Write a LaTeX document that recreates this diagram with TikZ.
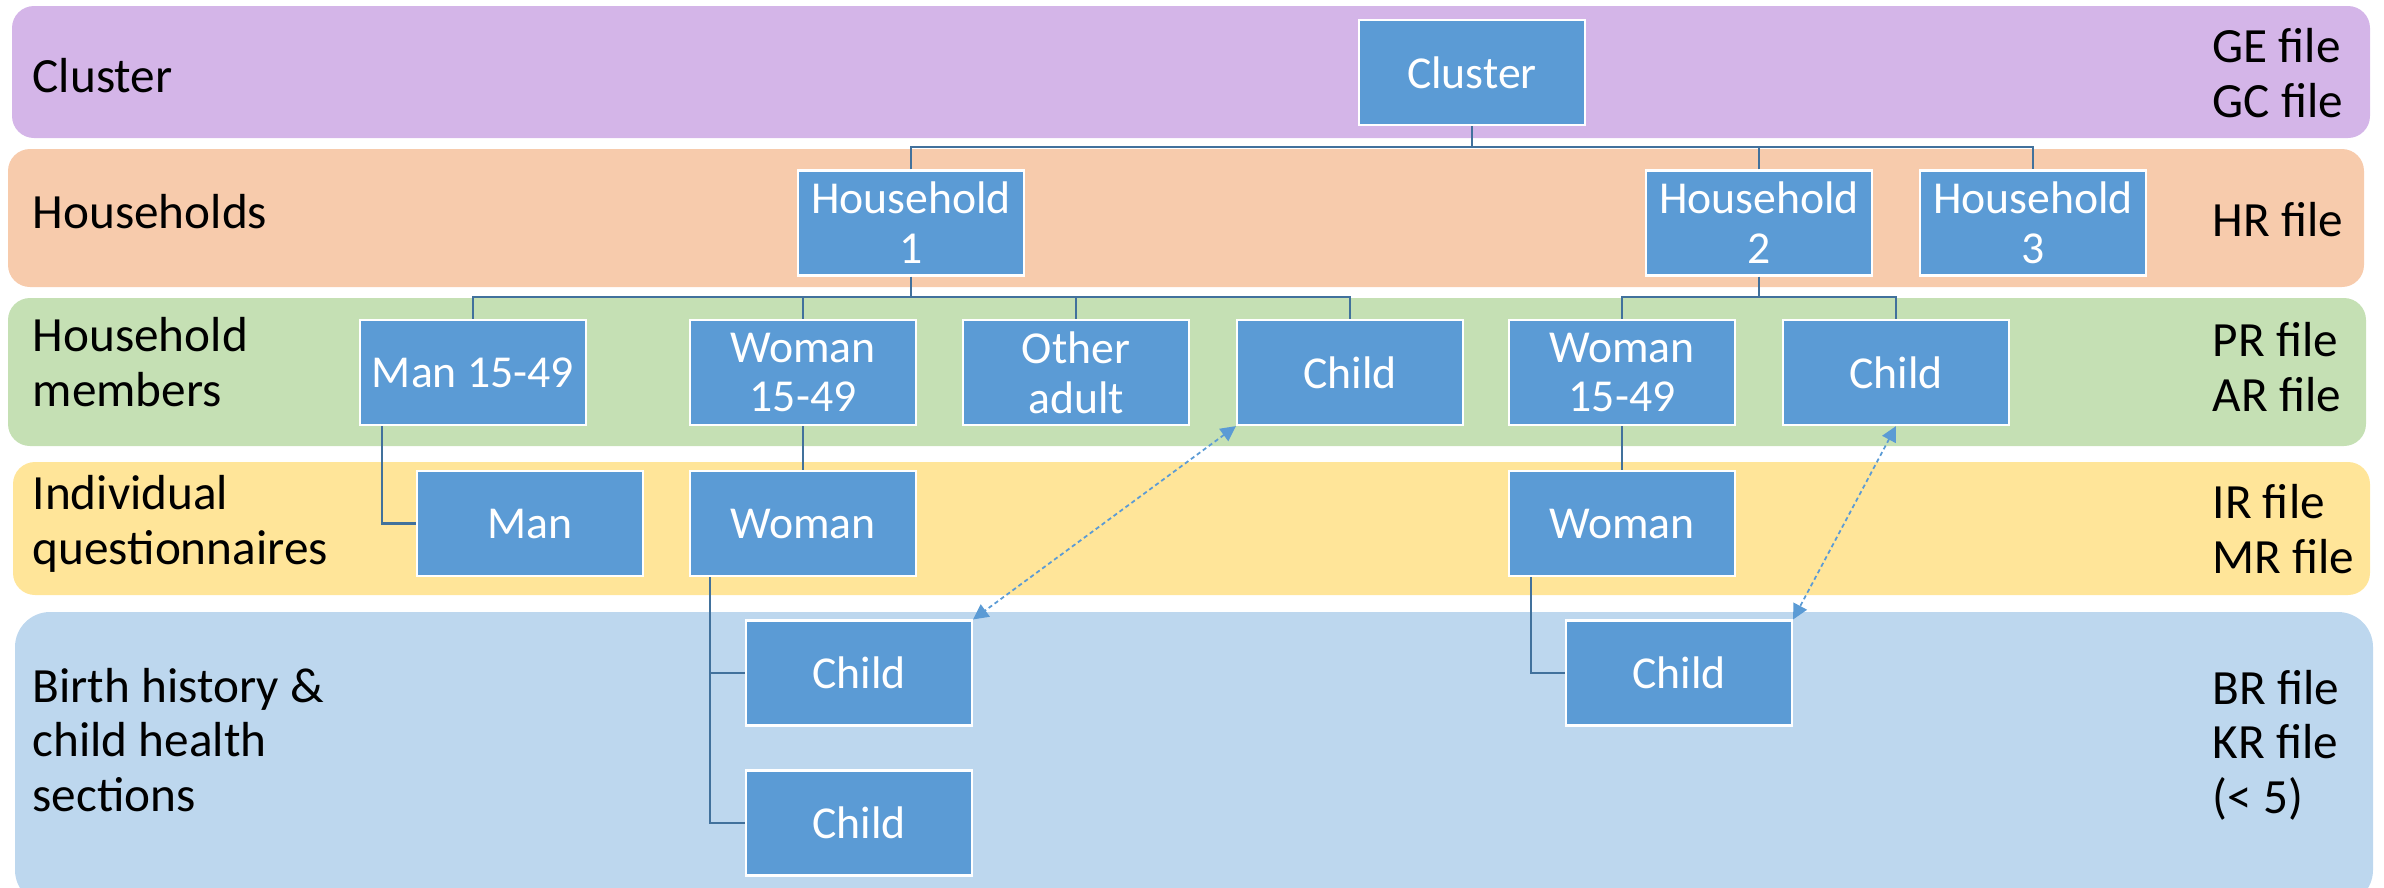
\documentclass[tikz,border=0pt]{standalone}
\usepackage{fontspec}
\setmainfont{Carlito}
\usetikzlibrary{arrows.meta}

\definecolor{bandcl}{RGB}{212,181,232}
\definecolor{bandhh}{RGB}{247,203,172}
\definecolor{bandmem}{RGB}{197,224,180}
\definecolor{bandiq}{RGB}{255,229,153}
\definecolor{bandbh}{RGB}{189,215,238}
\definecolor{boxblue}{RGB}{91,155,213}
\definecolor{linkblue}{RGB}{65,113,156}

\begin{document}
\begin{tikzpicture}[x=0.01cm, y=-0.01cm,
	box/.style={rectangle, fill=boxblue, draw=white, line width=0.6pt, text=white,
		minimum width=2.26cm, minimum height=1.05cm, inner sep=1pt, align=center,
		font=\fontsize{13}{14.2}\selectfont},
	lbl/.style={anchor=west, align=left, inner sep=0pt, font=\fontsize{14}{15.5}\selectfont},
	link/.style={draw=linkblue, line width=0.7pt},
	xref/.style={draw=boxblue, line width=0.5pt, dash pattern=on 1.2pt off 0.9pt,
		{Triangle[length=4.3pt,width=4.3pt]}-{Triangle[length=4.3pt,width=4.3pt]}}]
	\useasboundingbox (0,0) rectangle (2384,887);
	\clip (0,0) rectangle (2384,887);

	%bands
	\fill[bandcl, rounded corners=0.22cm] (12,6) rectangle (2370,138);
	\fill[bandhh, rounded corners=0.22cm] (8,149) rectangle (2364,287);
	\fill[bandmem, rounded corners=0.22cm] (8,298) rectangle (2366,446);
	\fill[bandiq, rounded corners=0.22cm] (13,462) rectangle (2370,595);
	\fill[bandbh, rounded corners=0.35cm] (15,612) rectangle (2373,905);

	%level names and files
	\node[lbl] (lcl) at (32,76) {Cluster};
	\node[lbl] (lhh) at (32,212) {Households};
	\node[lbl] (lmem) at (32,362) {Household\\members};
	\node[lbl] (liq) at (32,524) {Individual\\questionnaires};
	\node[lbl] (lbh) at (32,740) {Birth history \&\\child health\\sections};
	\node[lbl] (fcl) at (2212,73) {GE file\\GC file};
	\node[lbl] (fhh) at (2212,220) {HR file};
	\node[lbl] (fmem) at (2212,367) {PR file\\AR file};
	\node[lbl] (fiq) at (2212,529) {IR file\\MR file};
	\node[lbl] (fbh) at (2212,745) {BR file\\KR file\\(< 5)};

	%boxes
	\node[box] (cl) at (1472,72.5) {Cluster};
	\node[box] (hh1) at (911,223) {Household\\1};
	\node[box] (hh2) at (1759,223) {Household\\2};
	\node[box] (hh3) at (2033,223) {Household\\3};
	\node[box] (man) at (473,372.5) {Man 15-49};
	\node[box] (wom1) at (803,372.5) {Woman\\15-49};
	\node[box] (oth) at (1076,372.5) {Other\\adult};
	\node[box] (chd1) at (1350,372.5) {Child};
	\node[box] (wom2) at (1622,372.5) {Woman\\15-49};
	\node[box] (chd2) at (1896,372.5) {Child};
	\node[box] (mani) at (530,523.5) {Man};
	\node[box] (womi1) at (803,523.5) {Woman};
	\node[box] (womi2) at (1622,523.5) {Woman};
	\node[box] (kid1) at (859,673) {Child};
	\node[box] (kid2) at (859,823) {Child};
	\node[box] (kid3) at (1679,673) {Child};

	%tree lines
	\coordinate (bus1) at (0,147);
	\coordinate (bus2) at (0,297);
	\draw[link] (cl.south) -- (cl.south |- bus1);
	\draw[link] (hh1.north) -- (hh1.north |- bus1) -- (hh3.north |- bus1) -- (hh3.north);
	\draw[link] (hh2.north) -- (hh2.north |- bus1);
	\draw[link] (hh1.south) -- (hh1.south |- bus2);
	\draw[link] (man.north) -- (man.north |- bus2) -- (chd1.north |- bus2) -- (chd1.north);
	\foreach \m in {wom1, oth}
		\draw[link] (\m.north) -- (\m.north |- bus2);
	\draw[link] (hh2.south) -- (hh2.south |- bus2);
	\draw[link] (wom2.north) -- (wom2.north |- bus2) -- (chd2.north |- bus2) -- (chd2.north);
	\draw[link] (wom1.south) -- (womi1.north);
	\draw[link] (wom2.south) -- (womi2.north);
	\draw[link] ([xshift=0.23cm]man.south west) |- (mani.west);
	\draw[link] ([xshift=0.21cm]womi1.south west) |- (kid1.west);
	\draw[link] ([xshift=0.21cm]womi1.south west) |- (kid2.west);
	\draw[link] ([xshift=0.23cm]womi2.south west) |- (kid3.west);

	%cross links
	\draw[xref] (chd1.south west) -- (kid1.north east);
	\draw[xref] (chd2.south) -- (kid3.north east);
\end{tikzpicture}
\end{document}
